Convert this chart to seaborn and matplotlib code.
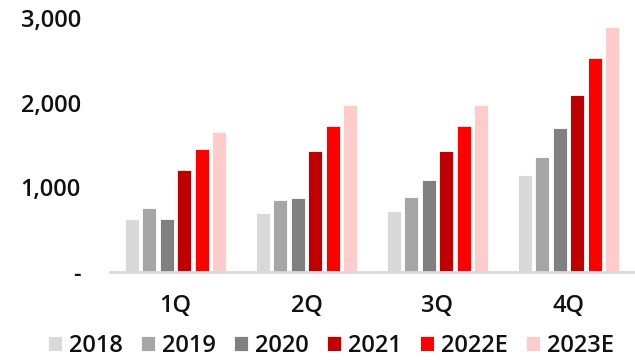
import matplotlib
matplotlib.use("Agg")
import matplotlib.pyplot as plt
import seaborn as sns
import pandas as pd
from matplotlib.ticker import FuncFormatter

quarters = ["1Q", "2Q", "3Q", "4Q"]
years = ["2018", "2019", "2020", "2021", "2022E", "2023E"]
v2018 = [630, 700, 722, 1140]
v2019 = [757, 856, 888, 1361]
v2020 = [630, 876, 1089, 1700]
v2021 = [1207, 1424, 1428, 2091]
v2022E = [1456, 1728, 1728, 2533]
v2023E = [1657, 1973, 1973, 2891]
colors = ["#D9D9D9", "#A6A6A6", "#808080", "#C00000", "#FF0000", "#FFCCCC"]

series = [v2018, v2019, v2020, v2021, v2022E, v2023E]
rows = []
for y, vals in zip(years, series):
    for q, v in zip(quarters, vals):
        rows.append({"quarter": q, "year": y, "value": v})
df = pd.DataFrame(rows)

sns.set_theme(style="white")
plt.rcParams["font.family"] = ["Open Sans", "DejaVu Sans"]

fig = plt.figure(figsize=(6.35, 3.6), dpi=100)
ax = fig.add_axes([110/635, 1-272/360, 524/635, (272-18)/360])
sns.barplot(data=df, x="quarter", y="value", hue="year", palette=colors,
            order=quarters, hue_order=years, width=0.8, gap=0.18,
            saturation=1, edgecolor="white", linewidth=0.6, ax=ax, legend=True)
ax.set_ylim(0, 3000)
ax.set_xlim(-0.5, 3.5)
ax.set_yticks([0, 1000, 2000, 3000])
ax.yaxis.set_major_formatter(FuncFormatter(lambda v, p: "-" if v == 0 else f"{int(v):,}"))
ax.set_xlabel("")
ax.set_ylabel("")
for s in ["top", "right", "left"]:
    ax.spines[s].set_visible(False)
ax.spines["bottom"].set_color("#D9D9D9")
ax.spines["bottom"].set_linewidth(2)
ax.tick_params(axis="y", length=0, pad=21, labelsize=17)
ax.tick_params(axis="x", length=0, pad=16, labelsize=17)
for lab in ax.get_yticklabels() + ax.get_xticklabels():
    lab.set_fontweight("semibold")
    lab.set_color("#111111")

handles, labels = ax.get_legend_handles_labels()
ax.get_legend().remove()
leg = fig.legend(handles, labels, loc="upper center", ncol=6,
                 bbox_to_anchor=(331/635, 1-334/360), frameon=False,
                 handlelength=0.56, handleheight=0.56, handletextpad=0.3,
                 columnspacing=0.8, borderpad=0, borderaxespad=0,
                 prop={"size": 17, "weight": "semibold"})
for t in leg.get_texts():
    t.set_color("#111111")

fig.savefig("out.png", dpi=100)
